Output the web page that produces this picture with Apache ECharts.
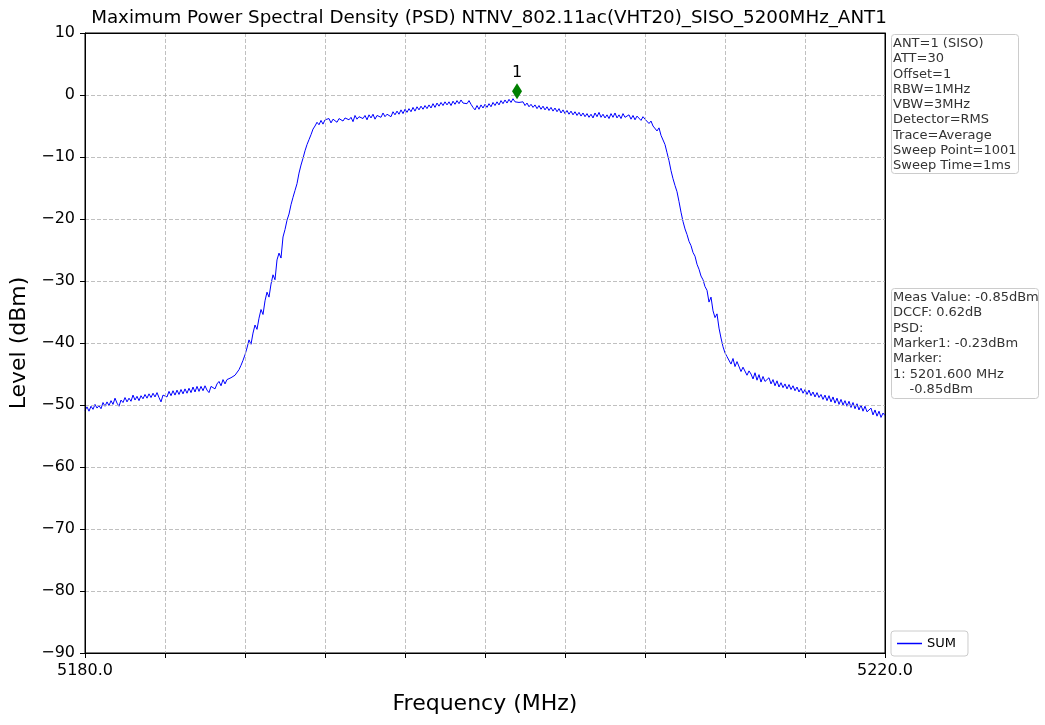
<!DOCTYPE html>
<html>
<head>
<meta charset="utf-8">
<script src="https://cdn.jsdelivr.net/npm/echarts@6/dist/echarts.min.js"></script>
<style>
html,body{margin:0;padding:0;background:#fff;}
#chart{width:1045px;height:725px;}
</style>
</head>
<body>
<div id="chart"></div>
<script>
// Sweep grid
var freqStart = 5180.0;
var freqStep = 0.1;
// Trace levels (dBm), one per sweep step
var levelSUM = [
-50.9,-50.3,-51.0,-50.2,-50.7,-49.9,-50.5,-50.1,-50.6,-49.6,-50.2,
-49.5,-50.1,-49.3,-49.9,-48.9,-49.7,-50.2,-49.2,-49.6,-48.8,
-49.5,-48.9,-49.4,-48.4,-49.2,-48.6,-49.3,-48.5,-49.0,-48.3,
-48.9,-48.2,-48.8,-48.1,-48.7,-48.0,-48.8,-49.5,-48.4,-48.1,
-48.7,-47.8,-48.5,-47.7,-48.4,-47.6,-48.3,-47.5,-48.2,-47.4,
-48.1,-47.3,-48.0,-47.1,-47.9,-47.0,-47.8,-47.0,-47.7,-46.9,
-47.6,-48.0,-47.0,-46.8,-47.4,-46.6,-46.2,-46.9,-45.9,-46.6,
-45.9,-46.2,-45.6,-45.9,-45.2,-45.0,-44.3,-43.6,-42.8,-41.9,
-40.8,-39.5,-40.2,-38.4,-37.1,-37.8,-36.0,-34.6,-35.4,-33.2,
-31.8,-32.6,-30.5,-29.0,-29.8,-26.6,-25.5,-26.3,-22.9,-21.7,
-20.2,-19.2,-17.7,-16.5,-15.4,-14.3,-12.6,-11.3,-10.2,-9.0,
-8.0,-7.2,-6.4,-5.5,-5.0,-4.4,-4.8,-4.1,-4.7,-4.0,
-4.3,-3.8,-4.5,-3.9,-3.6,-4.4,-3.8,-3.5,-4.2,-3.7,
-3.4,-4.0,-3.6,-4.3,-3.3,-3.9,-3.5,-3.2,-3.8,-3.3,
-4.0,-3.2,-3.7,-3.1,-3.9,-3.3,-3.0,-3.6,-2.9,-3.5,
-3.1,-2.8,-3.5,-2.7,-3.2,-2.6,-3.1,-2.4,-3.0,-2.3,
-2.8,-2.2,-2.7,-2.0,-2.6,-1.9,-2.4,-1.8,-2.3,-1.7,
-2.2,-1.6,-2.1,-1.4,-2.0,-1.3,-1.8,-1.2,-1.7,-1.1,
-1.6,-1.1,-1.7,-1.0,-1.5,-0.9,-1.4,-0.8,-1.3,-1.0,
-1.4,-0.9,-1.5,-2.0,-2.4,-1.7,-2.3,-1.6,-2.1,-1.5,
-2.0,-1.4,-1.9,-1.2,-1.7,-1.1,-1.6,-0.9,-1.4,-0.8,
-1.3,-0.7,-1.2,-0.6,-1.1,-0.85,-1.2,-1.4,-1.1,-1.7,
-1.3,-1.9,-1.5,-2.0,-1.6,-2.2,-1.7,-2.3,-1.8,-2.4,
-1.9,-2.5,-2.0,-2.6,-2.1,-2.7,-2.2,-2.9,-2.4,-3.0,
-2.5,-3.1,-2.6,-3.2,-2.7,-3.3,-2.8,-3.4,-2.9,-3.5,
-3.0,-3.6,-3.1,-3.7,-2.9,-3.5,-2.8,-3.6,-3.1,-3.7,
-3.2,-3.8,-3.0,-3.6,-2.9,-3.7,-3.2,-3.8,-3.0,-3.6,
-3.8,-3.2,-3.9,-3.3,-4.0,-3.4,-3.6,-4.1,-3.5,-3.9,
-4.2,-4.6,-4.2,-5.0,-4.9,-5.8,-5.3,-6.5,-6.7,-8.0,
-9.3,-10.6,-12.2,-13.5,-14.6,-15.6,-17.2,-18.9,-20.4,-21.6,
-22.5,-23.6,-24.3,-25.4,-26.0,-27.3,-28.1,-29.2,-29.8,-30.9,
-31.5,-33.4,-32.6,-34.8,-35.9,-35.3,-37.6,-39.2,-40.6,-41.6,
-42.2,-41.9,-43.4,-42.5,-43.8,-43.0,-43.2,-44.6,-43.9,-44.0,
-45.2,-44.5,-45.0,-45.8,-44.8,-46.0,-45.1,-46.3,-45.4,-46.2,
-46.5,-45.6,-46.6,-45.9,-46.9,-46.1,-47.1,-46.4,-47.2,-46.6,
-47.4,-46.7,-47.5,-46.9,-47.7,-47.1,-47.9,-47.3,-48.1,-47.5,
-48.3,-47.6,-48.5,-47.9,-48.7,-48.0,-48.8,-48.3,-49.1,-48.4,
-49.3,-48.5,-49.5,-48.7,-49.7,-48.9,-49.9,-49.1,-50.0,-49.3,
-50.2,-49.4,-50.4,-49.6,-50.6,-49.8,-50.8,-50.0,-51.0,-50.2,
-51.1,-51.4,-50.5,-51.6,-50.8,-51.8,-51.0,-52.0,-51.3,-51.7
];
var markerFreq = [5201.6];
var markerLevel = [0.6];
var markerNames = ['1'];
var infoLines = ['ANT=1 (SISO)','ATT=30','Offset=1','RBW=1MHz','VBW=3MHz','Detector=RMS','Trace=Average','Sweep Point=1001','Sweep Time=1ms'];
var measLines = ['Meas Value: -0.85dBm','DCCF: 0.62dB','PSD:','Marker1: -0.23dBm','Marker:','1: 5201.600 MHz','    -0.85dBm'];
var xTickLabels = [5180, 5220];

var FONT = 'DejaVu Sans';
var traceData = levelSUM.map(function(v, i){
  return [Math.round((freqStart + freqStep * i) * 10) / 10, v];
});
var markerData = markerFreq.map(function(f, i){ return {value:[f, markerLevel[i]], name: markerNames[i]}; });

var chart = echarts.init(document.getElementById('chart'), null, {renderer:'canvas'});
var dash = {color:'#b0b0b0', type:[4,2], width:0.8};
var frameAxis = {show:true, onZero:false, lineStyle:{color:'#000', width:1}};
chart.setOption({
  animation:false,
  backgroundColor:'#ffffff',
  title:{
    text:'Maximum Power Spectral Density (PSD) NTNV_802.11ac(VHT20)_SISO_5200MHz_ANT1',
    left:484, top:4, textAlign:'center',
    textStyle:{fontFamily:FONT, fontSize:18.3, fontWeight:'normal', color:'#000'}
  },
  grid:{left:85, right:160, top:33, bottom:72, show:true, borderColor:'#000', borderWidth:1, backgroundColor:'#fff', containLabel:false},
  legend:{
    data:['SUM'], left:891, top:631, orient:'vertical',
    icon:'rect', itemWidth:25, itemHeight:1.5, itemGap:4,
    padding:[6,12,6,6], borderColor:'#cccccc', borderWidth:1, borderRadius:3,
    textStyle:{fontFamily:FONT, fontSize:13, color:'#000'}
  },
  xAxis:[{
    type:'value', min:5180, max:5220, interval:4,
    name:'Frequency (MHz)', nameLocation:'middle', nameGap:40,
    nameTextStyle:{fontFamily:FONT, fontSize:22, color:'#000'},
    axisLine:frameAxis,
    axisTick:{show:true, inside:false, length:5, lineStyle:{color:'#000'}},
    axisLabel:{show:true, margin:10, fontFamily:FONT, fontSize:16, color:'#000', showMinLabel:true, showMaxLabel:true,
      formatter:function(v){ return xTickLabels.indexOf(v) >= 0 ? v.toFixed(1) : ''; }},
    splitLine:{show:true, lineStyle:dash}, z:3
  },{
    type:'value', position:'top', min:5180, max:5220, interval:4,
    axisLine:frameAxis, axisTick:{show:false}, axisLabel:{show:false}, splitLine:{show:false}, z:3
  }],
  yAxis:[{
    type:'value', min:-90, max:10, interval:10,
    name:'Level (dBm)', nameLocation:'middle', nameGap:52,
    nameTextStyle:{fontFamily:FONT, fontSize:22, color:'#000'},
    axisLine:frameAxis,
    axisTick:{show:true, inside:false, length:5, lineStyle:{color:'#000'}},
    axisLabel:{margin:10, fontFamily:FONT, fontSize:16, color:'#000',
      formatter:function(v){ return String(v).replace('-', '\u2212'); }},
    splitLine:{show:true, lineStyle:dash}, z:3
  },{
    type:'value', position:'right', min:-90, max:10, interval:10,
    axisLine:frameAxis, axisTick:{show:false}, axisLabel:{show:false}, splitLine:{show:false}, z:3
  }],
  series:[
    {name:'SUM', type:'line', data:traceData, symbol:'none', showSymbol:false,
     lineStyle:{color:'#0000ff', width:1}, itemStyle:{color:'#0000ff'}, z:2},
    {name:'marker', type:'scatter', data:markerData, symbol:'diamond', symbolSize:[10,16],
     itemStyle:{color:'#008000', opacity:1}, z:5,
     label:{show:true, position:'top', distance:2, formatter:'{b}', fontFamily:FONT, fontSize:16, color:'#000'}}
  ],
  graphic:[
    {type:'rect', left:891, top:34, shape:{width:127, height:139, r:3}, style:{fill:'#fff', stroke:'#cccccc', lineWidth:1}},
    {type:'text', left:893, top:36, style:{text:infoLines.join('\n'), font:'13px "DejaVu Sans"', lineHeight:15.25, fill:'#333'}},
    {type:'rect', left:891, top:288, shape:{width:147, height:110, r:3}, style:{fill:'#fff', stroke:'#cccccc', lineWidth:1}},
    {type:'text', left:893, top:290, style:{text:measLines.join('\n'), font:'13px "DejaVu Sans"', lineHeight:15.3, fill:'#333'}}
  ]
});
</script>
</body>
</html>
